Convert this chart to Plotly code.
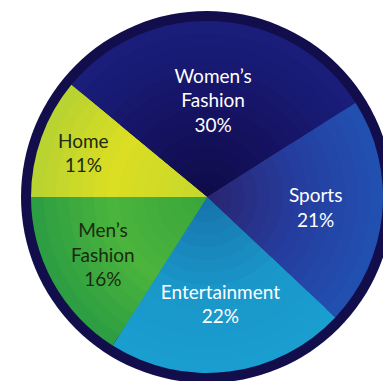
import plotly.graph_objects as go

categories = ["Women’s Fashion", "Sports", "Entertainment", "Men’s Fashion", "Home"]
display_labels = ["Women’s<br>Fashion", "Sports", "Entertainment", "Men’s<br>Fashion", "Home"]
values = [30, 21, 22, 16, 11]

# radial colour stops per slice: (center, middle, rim)
slice_stops = [
    ("#0f0b48", "#161466", "#1a1f7c"),
    ("#2a2470", "#253ea0", "#2152b2"),
    ("#1772aa", "#1a97c9", "#1a9ecf"),
    ("#3aa63a", "#4ab43c", "#2c9c42"),
    ("#c4d82c", "#dcde22", "#b6d232"),
]
text_colors = ["#ffffff", "#ffffff", "#ffffff", "#1c2a12", "#1c2a12"]

W, H = 383, 381
cx, cy, r = 207, 197, 176
rim = 10
n_bands = 14


def hex2rgb(h):
    h = h.lstrip("#")
    return [int(h[i:i + 2], 16) for i in (0, 2, 4)]


def mix(a, b, t):
    a, b = hex2rgb(a), hex2rgb(b)
    return "rgb({},{},{})".format(*[round(a[i] + (b[i] - a[i]) * t) for i in range(3)])


def color_at(stops, f):
    c0, c1, c2 = stops
    if f <= 0.55:
        return mix(c0, c1, f / 0.55)
    return mix(c1, c2, (f - 0.55) / 0.45)


def dom(rad):
    return dict(x=[(cx - rad) / W, (cx + rad) / W],
                y=[1 - (cy + rad) / H, 1 - (cy - rad) / H])


common = dict(labels=categories, values=values, sort=False, direction="clockwise",
              rotation=-50.4, showlegend=False)

fig = go.Figure()
for k in range(n_bands):
    f = 1 - k / n_bands
    fc = 1 - (k + 0.5) / n_bands
    fig.add_trace(go.Pie(
        **common,
        textinfo="none",
        hoverinfo="skip",
        marker=dict(colors=[color_at(s, fc) for s in slice_stops], line=dict(width=0)),
        domain=dom(r * f),
    ))

fig.add_trace(go.Pie(
    **common,
    customdata=display_labels,
    texttemplate="%{customdata}<br>%{value}%",
    textposition="inside",
    insidetextorientation="horizontal",
    textfont=dict(family="Lato", size=19, color=text_colors),
    marker=dict(colors=["rgba(0,0,0,0)"] * len(values), line=dict(width=0)),
    hoverinfo="label+percent",
    domain=dom(r),
))

fig.add_shape(type="circle", xref="paper", yref="paper", layer="below",
              x0=(cx - r - rim) / W, x1=(cx + r + rim) / W,
              y0=1 - (cy + r + rim) / H, y1=1 - (cy - r - rim) / H,
              fillcolor="#120e4c", line=dict(width=0))

fig.update_layout(width=W, height=H, margin=dict(l=0, r=0, t=0, b=0),
                  paper_bgcolor="white", plot_bgcolor="white",
                  uniformtext=dict(minsize=19, mode="show"))

fig.write_html("out.html")
